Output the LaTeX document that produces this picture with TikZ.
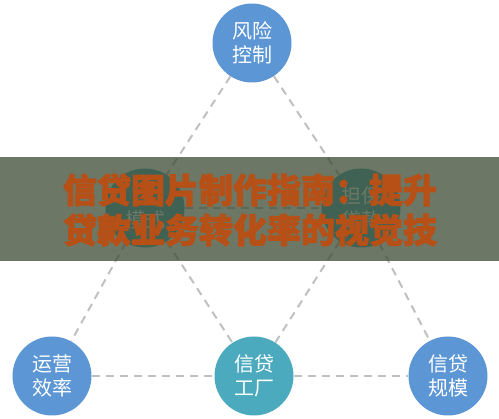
\documentclass[tikz,border=0pt]{standalone}
\usepackage{fontspec}
\setmainfont{Noto Sans CJK SC}
\newfontfamily\titlefont{Noto Sans CJK SC}[BoldFeatures={FakeBold=2.5}]
\definecolor{riskblue}{RGB}{92,150,212}
\definecolor{factoryteal}{RGB}{76,170,190}
\definecolor{dashgray}{RGB}{192,192,192}
\definecolor{bannergreen}{RGB}{59,74,50}
\definecolor{titleorange}{RGB}{182,80,22}
\begin{document}
\begin{tikzpicture}[x=1pt,y=-1pt]
      \useasboundingbox (0,0) rectangle (499,419);

      \begin{scope}[every node/.style={circle,minimum size=79pt,inner sep=0pt,text=white,
          align=center,font=\fontsize{20}{24}\selectfont}]
        \node[fill=riskblue]    (risk)    at (252,43)  {风险\\控制};
        \node[fill=factoryteal] (mode)    at (145,208) {\phantom{模式}\\模式};
        \node[fill=factoryteal] (loan)    at (361,208) {担保\\贷款};
        \node[fill=riskblue]    (ops)     at (52,376)  {运营\\效率};
        \node[fill=factoryteal] (factory) at (254,376) {信贷\\工厂};
        \node[fill=riskblue]    (scale)   at (448,376) {信贷\\规模};
      \end{scope}

      \begin{scope}[every edge/.style={draw=dashgray,line width=2pt,dash pattern=on 8pt off 6pt}]
        \path (risk)    edge (mode);
        \path (risk)    edge (loan);
        \path (mode)    edge (loan);
        \path (mode)    edge (ops);
        \path (mode)    edge (factory);
        \path (loan)    edge (factory);
        \path (loan)    edge (scale);
        \path (ops)     edge (factory);
        \path (factory) edge (scale);
      \end{scope}

      % banner over the middle
      \node[anchor=north west,fill=bannergreen,fill opacity=0.75,minimum width=499pt,
        minimum height=104pt,inner sep=0pt] (banner) at (0,157) {};
      \node[text=titleorange,align=center,font=\titlefont\bfseries\fontsize{34}{40}\selectfont]
        (title) at (250,210) {信贷图片制作指南：提升\\贷款业务转化率的视觉技};

    \end{tikzpicture}
\end{document}
